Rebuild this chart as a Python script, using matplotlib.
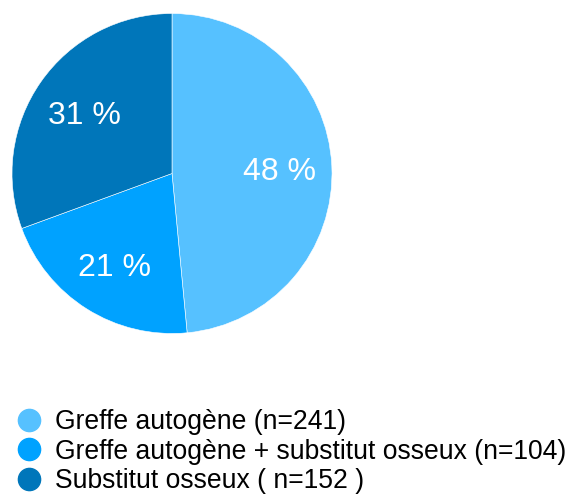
import matplotlib.pyplot as plt
from matplotlib.lines import Line2D

# data
labels = ["Greffe autogène (n=241)",
          "Greffe autogène + substitut osseux (n=104)",
          "Substitut osseux ( n=152 )"]
counts = [241, 104, 152]
colors = ["#56C1FF", "#00A2FF", "#0076BA"]

plt.rcParams['font.family'] = ['Liberation Sans', 'DejaVu Sans']

fig = plt.figure(figsize=(5.76, 4.94), dpi=100)
# pie centre ~ (172, 173) px, radius ~160 px
ax = fig.add_axes([12 / 576, (494 - 173.5 - 160) / 494, 320 / 576, 320 / 494])

wedges, texts, autotexts = ax.pie(
    counts, colors=colors, startangle=90, counterclock=False,
    autopct=lambda p: f"{p:.0f} %", pctdistance=0.67, radius=1,
    wedgeprops=dict(edgecolor="white", linewidth=0.4),
    textprops=dict(color="white", fontsize=23))
for t in autotexts:
    t.set_va("center_baseline")
ax.set_xlim(-1, 1)
ax.set_ylim(-1, 1)
ax.set_aspect("equal")
ax.axis("off")

# legend with round markers
handles = [Line2D([], [], marker="o", linestyle="", markersize=16,
                  markerfacecolor=c, markeredgecolor=c) for c in colors]
fig.legend(handles, labels, loc="upper left", bbox_to_anchor=(13 / 576, 1 - 409 / 494),
           frameon=False, fontsize=19.1, handletextpad=0.4, labelspacing=0.14,
           handlelength=1.2, borderpad=0, borderaxespad=0)

fig.savefig("out.png", dpi=100)
